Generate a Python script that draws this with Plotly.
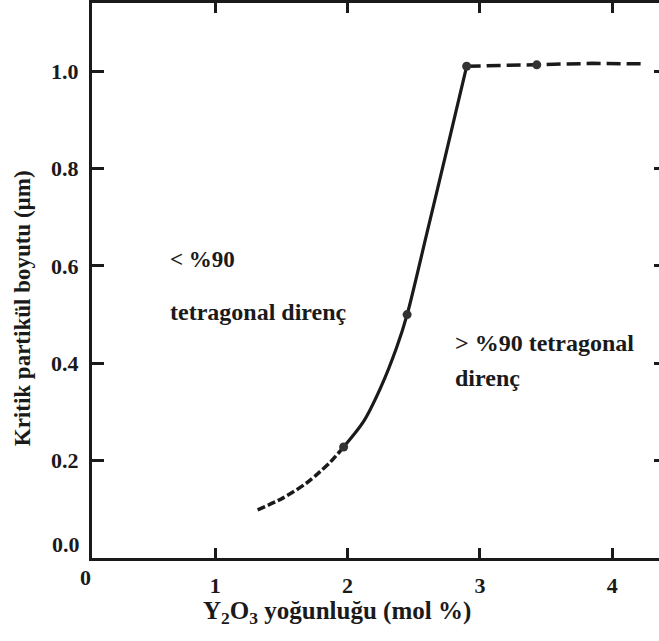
import plotly.graph_objects as go

# Data
lower_x = [1.32, 1.51, 1.69, 1.79, 1.87, 1.97]
lower_y = [0.099, 0.123, 0.154, 0.177, 0.197, 0.228]
mid_x = [1.97, 2.12, 2.25, 2.37, 2.45, 2.60, 2.75, 2.90]
mid_y = [0.228, 0.280, 0.350, 0.432, 0.50, 0.668, 0.838, 1.01]
plateau_x = [2.90, 3.43, 3.85, 4.23]
plateau_y = [1.01, 1.013, 1.016, 1.015]
marker_x = [1.97, 2.45, 2.90, 3.43]
marker_y = [0.228, 0.50, 1.01, 1.013]

x_ticks = [1, 2, 3, 4]
y_ticks = [0.2, 0.4, 0.6, 0.8, 1.0]
y_tick_text = ["0.2", "0.4", "0.6", "0.8", "1.0"]

FONT = "'Liberation Serif', 'Times New Roman', Times, serif"
INK = "#1a1a1a"

fig = go.Figure()
fig.add_trace(go.Scatter(x=lower_x, y=lower_y, mode="lines",
                         line=dict(color=INK, width=3.5, dash="8px,3px", shape="spline", smoothing=0.8),
                         showlegend=False, hoverinfo="skip"))
fig.add_trace(go.Scatter(x=mid_x, y=mid_y, mode="lines",
                         line=dict(color=INK, width=3.2, shape="spline", smoothing=0.8),
                         showlegend=False, hoverinfo="skip"))
fig.add_trace(go.Scatter(x=plateau_x, y=plateau_y, mode="lines",
                         line=dict(color=INK, width=3.5, dash="14px,6px"),
                         showlegend=False, hoverinfo="skip"))
fig.add_trace(go.Scatter(x=marker_x, y=marker_y, mode="markers",
                         marker=dict(color="#333333", size=9),
                         showlegend=False, hoverinfo="skip"))
# invisible trace to carry the right-hand tick axis
fig.add_trace(go.Scatter(x=[2], y=[0.5], yaxis="y2", mode="markers",
                         marker=dict(opacity=0), showlegend=False, hoverinfo="skip"))

fig.update_layout(
    width=659, height=641,
    margin=dict(l=92, r=0, t=3, b=83),
    paper_bgcolor="white", plot_bgcolor="white",
    font=dict(family=FONT, color=INK),
    xaxis=dict(range=[0.068, 4.354], tickvals=x_ticks, ticktext=[f"<b>{v}</b>" for v in x_ticks],
               ticks="inside", ticklen=10, tickwidth=3, tickcolor=INK,
               showline=True, linewidth=3, linecolor=INK, mirror="ticks",
               showgrid=False, zeroline=False,
               tickfont=dict(family=FONT, size=22, color=INK),
               ticklabelstandoff=6),
    yaxis=dict(range=[0, 1.14], tickvals=y_ticks, ticktext=[f"<b>{t}</b>" for t in y_tick_text],
               ticks="inside", ticklen=12, tickwidth=3, tickcolor=INK,
               showline=True, linewidth=3, linecolor=INK,
               showgrid=False, zeroline=False,
               tickfont=dict(family=FONT, size=22, color=INK),
               ticklabelstandoff=6),
    yaxis2=dict(range=[0, 1.14], overlaying="y", side="right",
                tickvals=y_ticks, ticks="inside", ticklen=5, tickwidth=3,
                tickcolor=INK, showticklabels=False, showline=False,
                showgrid=False, zeroline=False),
)

annots = [
    dict(text="< %90", x=0.642, y=0.614, xref="x", yref="y", xanchor="left", size=23),
    dict(text="tetragonal direnç", x=0.642, y=0.505, xref="x", yref="y", xanchor="left", size=24),
    dict(text="> %90 tetragonal", x=2.797, y=0.441, xref="x", yref="y", xanchor="left", size=24),
    dict(text="direnç", x=2.797, y=0.370, xref="x", yref="y", xanchor="left", size=24),
    dict(text="0.0", x=-0.0176, y=0.027, xref="paper", yref="y", xanchor="right", size=22),
    dict(text="0", x=-0.0106, y=-0.036, xref="paper", yref="paper", xanchor="center", size=22),
    dict(text="Y<sub>2</sub>O<sub>3</sub> yoğunluğu (mol %)", x=0.432, y=-0.0973,
         xref="paper", yref="paper", xanchor="center", size=25),
]
for a in annots:
    fig.add_annotation(text=f"<b>{a['text']}</b>", x=a["x"], y=a["y"], xref=a["xref"], yref=a["yref"],
                       xanchor=a["xanchor"], yanchor="middle", showarrow=False,
                       font=dict(family=FONT, size=a["size"], color=INK))

fig.add_annotation(text="<b>Kritik partikül boyutu (µm)</b>", x=-0.1235, y=0.45,
                   xref="paper", yref="paper", textangle=-90, showarrow=False,
                   xanchor="center", yanchor="middle",
                   font=dict(family=FONT, size=23, color=INK))

fig.write_html("out.html")
